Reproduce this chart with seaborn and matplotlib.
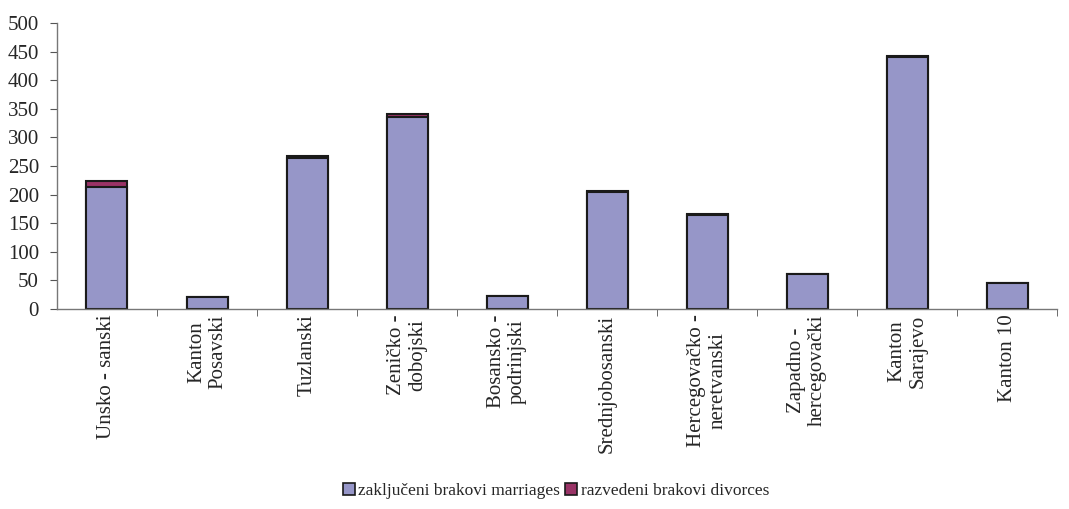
import matplotlib
matplotlib.use('Agg')
import matplotlib.pyplot as plt
import seaborn as sns
import numpy as np
import pandas as pd
from matplotlib.patches import Patch

# ─── Data ─────────────────────────────────────────────────────────────────────
cantons = [
    'Unsko - sanski', 'Kanton\nPosavski', 'Tuzlanski', 'Zeničko -\ndobojski',
    'Bosansko -\npodrinjski', 'Srednjobosanski', 'Hercegovačko -\nneretvanski',
    'Zapadno -\nhercegovački', 'Kanton\nSarajevo', 'Kanton 10',
]
marriages = [213, 21, 264, 335, 22, 205, 165, 61, 441, 45]
divorces = [11, 0, 3, 6, 0, 2, 1, 0, 2, 0]

marriage_label = 'zaključeni brakovi marriages'
divorce_label = 'razvedeni brakovi divorces'
marriage_color = '#9696C8'
divorce_color = '#993366'

df = pd.DataFrame({'canton': cantons, 'marriages': marriages, 'divorces': divorces})
df['total'] = df['marriages'] + df['divorces']

sns.set_style('white')
plt.rcParams['font.family'] = ['Liberation Serif', 'DejaVu Serif']

fig = plt.figure(figsize=(10.69, 5.09), dpi=100)
ax = fig.add_axes([0.0533, 0.393, 0.9357, 0.562])

# stacked: total underneath (divorce colour), marriages drawn over it
sns.barplot(data=df, x='canton', y='total', color=divorce_color, width=0.41,
            edgecolor='#1a1a1a', linewidth=1.5, saturation=1, ax=ax)
sns.barplot(data=df, x='canton', y='marriages', color=marriage_color, width=0.41,
            edgecolor='#1a1a1a', linewidth=1.5, saturation=1, ax=ax)

ax.set_ylim(0, 500)
ax.set_xlim(-0.5, len(cantons) - 0.5)
ax.set_yticks(np.arange(0, 501, 50))
ax.set_xlabel('')
ax.set_ylabel('')

ax.set_xticks(np.arange(len(cantons)))
ax.set_xticklabels(cantons, rotation=90, ha='center', va='top',
                   multialignment='center', fontsize=15, linespacing=1.15)
ax.tick_params(axis='x', which='major', length=0, pad=4)
ax.set_xticks(np.arange(len(cantons)) + 0.5, minor=True)
ax.tick_params(axis='x', which='minor', length=5, direction='out',
               color='#555555', bottom=True)
ax.tick_params(axis='y', length=5, direction='out', color='#555555',
               labelsize=15, left=True, pad=8)

for side in ['top', 'right']:
    ax.spines[side].set_visible(False)
for side in ['left', 'bottom']:
    ax.spines[side].set_color('#777777')
    ax.spines[side].set_linewidth(1.0)

handles = [
    Patch(facecolor=marriage_color, edgecolor='#1a1a1a', linewidth=1.2, label=marriage_label),
    Patch(facecolor=divorce_color, edgecolor='#1a1a1a', linewidth=1.2, label=divorce_label),
]
fig.legend(handles=handles, loc='center', bbox_to_anchor=(0.52, 0.035), ncol=2,
           frameon=False, fontsize=12.5, handlelength=0.7, handleheight=0.7,
           handletextpad=0.2, columnspacing=0.3)

fig.savefig('out.png', dpi=100)
